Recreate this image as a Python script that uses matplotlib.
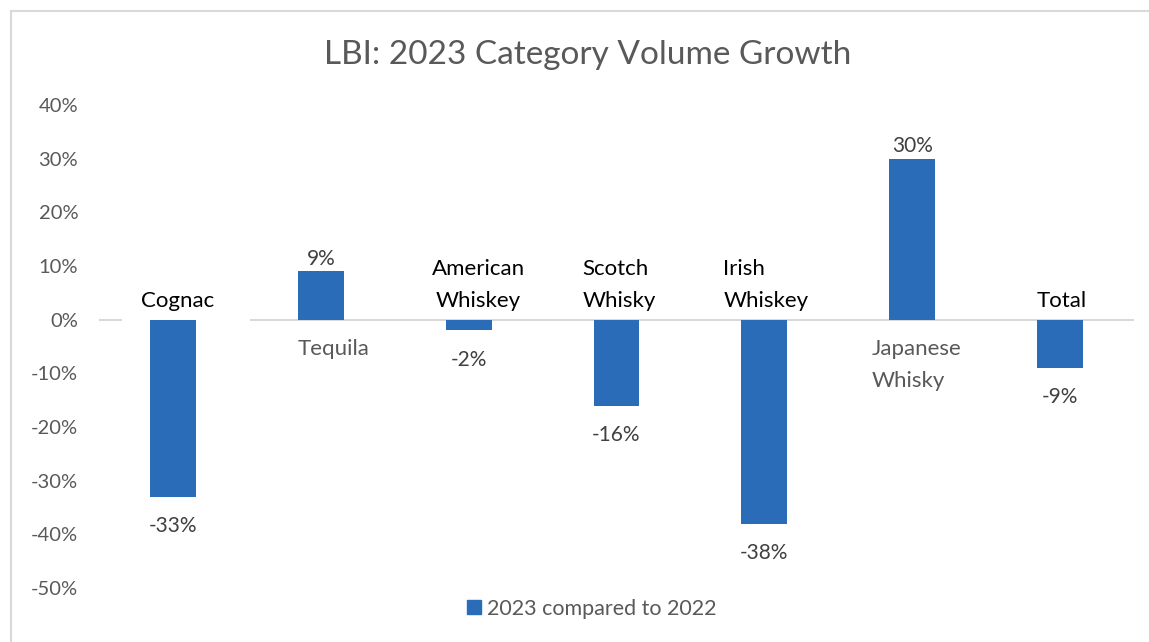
import matplotlib.pyplot as plt
from matplotlib.lines import Line2D
from matplotlib.ticker import PercentFormatter

# Data
categories = ['Cognac', 'Tequila', 'American\nWhiskey', 'Scotch\nWhisky',
              'Irish\nWhiskey', 'Japanese\nWhisky', 'Total']
growth = [-0.33, 0.09, -0.02, -0.16, -0.38, 0.30, -0.09]
series_name = '2023 compared to 2022'
title = 'LBI: 2023 Category Volume Growth'
y_ticks = [-0.5, -0.4, -0.3, -0.2, -0.1, 0.0, 0.1, 0.2, 0.3, 0.4]

# small nudges of the category labels, as placed in the original (points)
label_nudge = [3, 9, 7, 2, 1, 3, 1]
label_align = ['center', 'center', 'center', 'left', 'left', 'left', 'center']

BAR_COLOR = '#2B6CB9'
GRAY = '#595959'

plt.rcParams['font.family'] = ['Lato', 'DejaVu Sans']
plt.rcParams['axes.unicode_minus'] = False

fig = plt.figure(figsize=(11.49, 6.42), dpi=100)
ax = fig.add_axes([0.0862, 0.0841, 0.9007, 0.7523])

x = list(range(len(categories)))
bars = ax.bar(x, growth, width=0.31, color=BAR_COLOR, zorder=3)

ax.set_xlim(-0.5, len(categories) - 0.5)
ax.set_ylim(min(y_ticks), max(y_ticks))
ax.set_yticks(y_ticks)
ax.yaxis.set_major_formatter(PercentFormatter(1.0, decimals=0))
ax.tick_params(axis='y', length=0, labelsize=14.5, labelcolor=GRAY, pad=15)
ax.set_xticks([])
for s in ax.spines.values():
    s.set_visible(False)

# zero line (broken behind the first label, as in the original)
ax.hlines(0, -0.5, -0.345, color='#D9D9D9', linewidth=1.5, zorder=2)
ax.hlines(0, 0.52, len(categories) - 0.5, color='#D9D9D9', linewidth=1.5, zorder=2)

# category labels sit on the opposite side of the zero line
for xi, cat, val, dx, al in zip(x, categories, growth, label_nudge, label_align):
    if val < 0:
        ax.annotate(cat, (xi, 0), xytext=(dx, 6), textcoords='offset points',
                    ha='center', va='bottom', fontsize=16, color='black',
                    linespacing=1.75, multialignment=al)
    else:
        ax.annotate(cat, (xi, 0), xytext=(dx, -14), textcoords='offset points',
                    ha='center', va='top', fontsize=16, color=GRAY,
                    linespacing=1.75, multialignment=al)

# data labels
for xi, val in zip(x, growth):
    label = f'{round(val * 100):d}%'
    if val >= 0:
        ax.annotate(label, (xi, val), xytext=(0, 2), textcoords='offset points',
                    ha='center', va='bottom', fontsize=15, color='#404040')
    else:
        ax.annotate(label, (xi, val), xytext=(0, -14), textcoords='offset points',
                    ha='center', va='top', fontsize=15, color='#404040')

fig.text(0.511, 0.915, title, ha='center', va='center', fontsize=24, color=GRAY)

handle = Line2D([], [], marker='s', linestyle='none', markersize=10,
                markerfacecolor=BAR_COLOR, markeredgecolor=BAR_COLOR)
fig.legend([handle], [series_name], loc='center', bbox_to_anchor=(0.513, 0.052),
           frameon=False, fontsize=15.5, labelcolor=GRAY, handletextpad=0.1,
           handlelength=1.0)

# chart frame (top and left edges visible)
fig.add_artist(Line2D([11 / 1149, 11 / 1149], [0, 1 - 11 / 642],
                      transform=fig.transFigure, color='#D9D9D9', linewidth=1.5))
fig.add_artist(Line2D([11 / 1149, 1], [1 - 11 / 642, 1 - 11 / 642],
                      transform=fig.transFigure, color='#D9D9D9', linewidth=1.5))

fig.savefig('out.png', dpi=100, facecolor='white')
